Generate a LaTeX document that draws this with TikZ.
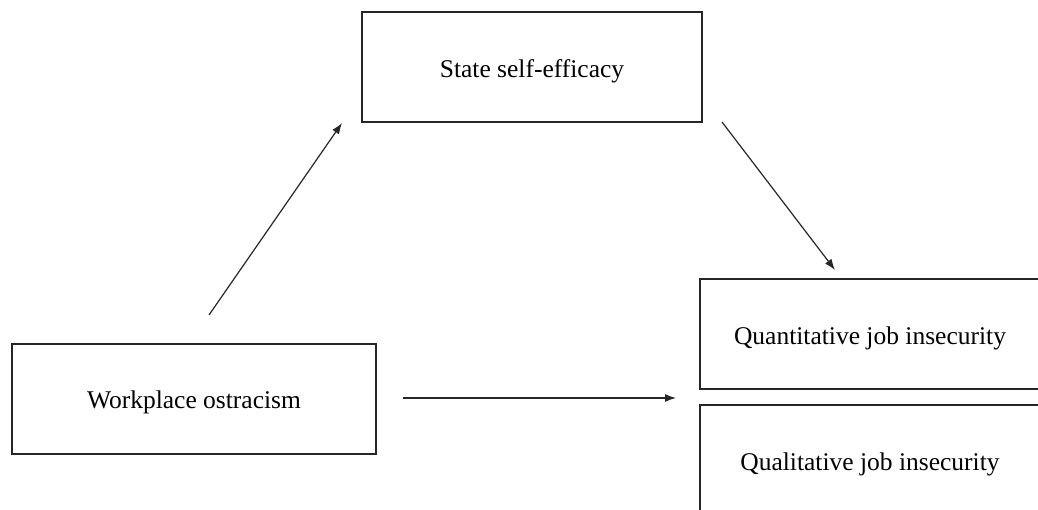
\documentclass[tikz,border=0pt]{standalone}
\usepackage{fontspec}
\setmainfont{Liberation Serif}
\usetikzlibrary{arrows.meta}
\begin{document}
\begin{tikzpicture}[x=1pt,y=-1pt,
  box/.style={draw=black!85, line width=1.4pt, rectangle, inner sep=0pt},
  txt/.style={inner sep=0pt, font=\fontsize{25.5}{30}\selectfont},
  conn/.style={line width=1.2pt, draw=black!85, -{Latex[length=11pt,width=8pt]}}]
\useasboundingbox (0,0) rectangle (1038,510);
\clip (0,0) rectangle (1038,510);
\node[box, minimum width=364pt, minimum height=110pt] (wo) at (194,399) {};
\node[box, minimum width=340pt, minimum height=110pt] (se) at (532,67) {};
\node[box, minimum width=340pt, minimum height=110pt] (qn) at (870,334) {};
\node[box, minimum width=340pt, minimum height=110pt] (ql) at (870,460) {};
\node[txt] (wot) at ([yshift=-3.5pt]wo.center) {Workplace ostracism};
\node[txt] (set) at ([yshift=-4pt]se.center) {State self-efficacy};
\node[txt] (qnt) at ([yshift=-4pt]qn.center) {Quantitative job insecurity};
\node[txt] (qlt) at ([yshift=-4.5pt]ql.center) {Qualitative job insecurity};
\coordinate (a1s) at (209,315);
\coordinate (a1e) at (342,123);
\coordinate (a2s) at (722,122);
\coordinate (a2e) at (835,270);
\coordinate (a3s) at (403,398);
\coordinate (a3e) at (676,398);
\draw[conn] (a1s) -- (a1e);
\draw[conn] (a2s) -- (a2e);
\draw[conn] (a3s) -- (a3e);
\end{tikzpicture}
\end{document}
